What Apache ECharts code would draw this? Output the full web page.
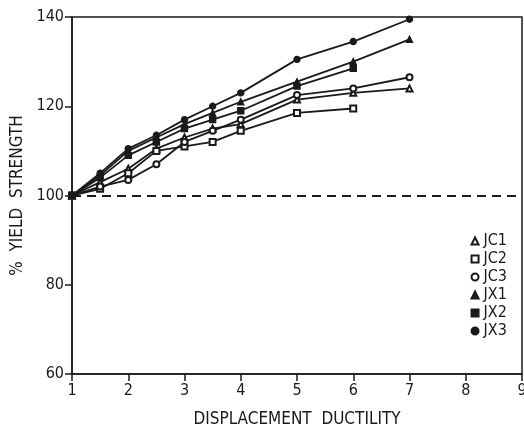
<!DOCTYPE html>
<html>
<head>
<meta charset="utf-8">
<script src="https://cdn.jsdelivr.net/npm/echarts@6/dist/echarts.min.js"></script>
<style>
  html, body { margin: 0; padding: 0; background: #fff; }
  #chart { width: 524px; height: 437px; }
</style>
</head>
<body>
<div id="chart"></div>
<script>
// displacement ductility steps
var ductility = [1, 1.5, 2, 2.5, 3, 3.5, 4, 5, 6, 7];

// % yield strength
var jc1 = [100, 103, 106, 110.5, 113, 115, 116, 121.5, 123, 124];
var jc2 = [100, 101.5, 105, 110, 111, 112, 114.5, 118.5, 119.5];
var jc3 = [100, 102, 103.5, 107, 112, 114.5, 117, 122.5, 124, 126.5];
var jx1 = [100, 104.5, 110, 113, 116, 118.5, 121, 125.5, 130, 135];
var jx2 = [100, 104, 109, 112, 115, 117, 119, 124.5, 128.5];
var jx3 = [100, 105, 110.5, 113.5, 117, 120, 123, 130.5, 134.5, 139.5];

var xTicks = [1, 2, 3, 4, 5, 6, 7, 8, 9];
var yTicks = [60, 80, 100, 120, 140];

var font = '"Liberation Sans Narrow", "DejaVu Sans Condensed", "Liberation Sans", sans-serif';
var ink = '#1a1a1a';

function pairs(vals) {
    var out = [];
    for (var i = 0; i < vals.length; i++) out.push([ductility[i], vals[i]]);
    return out;
}

function line(name, vals, symbol) {
    return {
        name: name,
        type: 'line',
        data: pairs(vals),
        symbol: symbol,
        symbolSize: 6,
        showAllSymbol: true,
        lineStyle: { color: ink, width: 1.8 },
        itemStyle: { color: ink, borderColor: ink, borderWidth: 1.4 },
        emphasis: { disabled: true },
        animation: false
    };
}

var chart = echarts.init(document.getElementById('chart'));

var series = [
    line('JC1', jc1, 'emptyTriangle'),
    line('JC2', jc2, 'emptyRect'),
    line('JC3', jc3, 'emptyCircle'),
    line('JX1', jx1, 'triangle'),
    line('JX2', jx2, 'rect'),
    line('JX3', jx3, 'circle')
];

// dashed reference line at 100 %
series[0].markLine = {
    silent: true,
    symbol: 'none',
    label: { show: false },
    lineStyle: { color: ink, type: [9, 6], width: 2 },
    data: [{ yAxis: 100 }]
};

var option = {
    backgroundColor: '#fff',
    animation: false,
    grid: {
        left: 72, right: 2, top: 17, bottom: 63,
        outerBoundsMode: 'none',
        containLabel: false,
        show: true, borderColor: ink, borderWidth: 1.5
    },
    legend: {
        orient: 'vertical',
        right: 12,
        top: 228,
        itemWidth: 7,
        itemHeight: 7,
        itemGap: 2,
        textStyle: { fontFamily: font, fontSize: 16, lineHeight: 14, color: ink, padding: [0, 0, 0, 0] },
        data: [
            { name: 'JC1', icon: 'emptyTriangle' },
            { name: 'JC2', icon: 'emptyRect' },
            { name: 'JC3', icon: 'emptyCircle' },
            { name: 'JX1', icon: 'triangle' },
            { name: 'JX2', icon: 'rect' },
            { name: 'JX3', icon: 'circle' }
        ]
    },
    xAxis: {
        type: 'value',
        min: xTicks[0],
        max: xTicks[xTicks.length - 1],
        interval: 1,
        name: 'DISPLACEMENT  DUCTILITY',
        nameLocation: 'middle',
        nameGap: 37,
        nameTextStyle: { fontFamily: font, fontSize: 17, color: ink },
        axisLine: { lineStyle: { color: ink, width: 1.5 } },
        axisTick: { lineStyle: { color: ink, width: 1.5 }, length: 7 },
        axisLabel: { fontFamily: font, fontSize: 16, color: ink, margin: 9 },
        splitLine: { show: false }
    },
    yAxis: {
        type: 'value',
        min: yTicks[0],
        max: yTicks[yTicks.length - 1],
        interval: 20,
        name: '%  YIELD  STRENGTH',
        nameLocation: 'middle',
        nameGap: 44,
        nameTextStyle: { fontFamily: font, fontSize: 17, color: ink },
        axisLine: { show: true, lineStyle: { color: ink, width: 1.5 } },
        axisTick: { show: true, lineStyle: { color: ink, width: 1.5 }, length: 7 },
        axisLabel: { fontFamily: font, fontSize: 16, color: ink, margin: 8 },
        splitLine: { show: false }
    },
    series: series
};

chart.setOption(option);
</script>
</body>
</html>
